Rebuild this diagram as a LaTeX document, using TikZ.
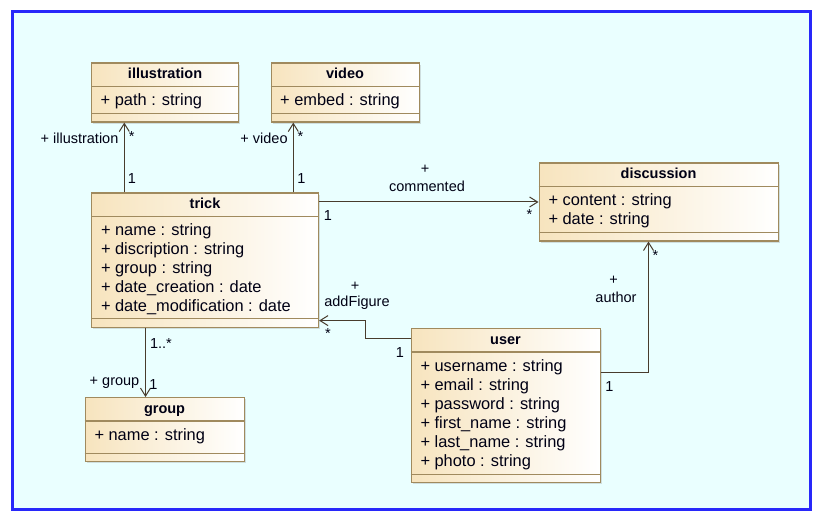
\documentclass[tikz,border=0pt]{standalone}
\usepackage{fontspec}
\setmainfont{Liberation Sans}
\usetikzlibrary{arrows.meta,shadows}

\definecolor{framecol}{RGB}{40,40,250}
\definecolor{bgcyan}{RGB}{234,255,255}
\definecolor{boxtan}{RGB}{247,228,190}
\definecolor{boxedge}{RGB}{160,138,94}
\definecolor{linecol}{RGB}{72,60,45}
\definecolor{textcol}{RGB}{0,0,20}

\begin{document}
\begin{tikzpicture}[x=1pt,y=-1pt]

    \tikzset{
      classbox/.style={
        draw=boxedge,
        line width=1.1pt,
        left color=boxtan,
        right color=white,
        inner sep=0pt,
        anchor=north west,
        drop shadow={shadow xshift=1.5pt,shadow yshift=-1.5pt,opacity=0.25},
      },
      classline/.style={draw=boxedge,line width=1.1pt},
      classtitle/.style={anchor=base,inner sep=0pt,text=textcol,font=\fontsize{14.5pt}{17pt}\selectfont\bfseries},
      classattr/.style={anchor=base west,inner sep=0pt,text=textcol,font=\fontsize{16.4pt}{19pt}\selectfont},
      assoclabel/.style={anchor=base,inner sep=0pt,text=textcol,font=\fontsize{14.5pt}{17pt}\selectfont},
      assoc/.style={draw=linecol,line width=1pt,-{Straight Barb[length=8pt,width=10pt]}},
    }
    \useasboundingbox (0,0) rectangle (821,521);
    \fill[white] (0,0) rectangle (821,521);
    \draw[draw=framecol,line width=3pt,fill=bgcyan] (12,12) rectangle (810,509.5);

	% classes
	\node[classbox,minimum width=147pt,minimum height=59pt] (illustration) at (91,62.5) {};
	\node[classbox,minimum width=148pt,minimum height=59pt] (video) at (270.5,62.5) {};
	\node[classbox,minimum width=227pt,minimum height=134pt] (trick) at (91,192.5) {};
	\node[classbox,minimum width=239pt,minimum height=78pt] (discussion) at (538.5,162.5) {};
	\node[classbox,minimum width=189pt,minimum height=154pt] (user) at (410.5,328) {};
	\node[classbox,minimum width=159pt,minimum height=64pt] (group) at (84.5,397) {};

	\draw[classline] ([yshift=-24pt]illustration.north west) -- ([yshift=-24pt]illustration.north east);
	\draw[classline] ([yshift=9pt]illustration.south west) -- ([yshift=9pt]illustration.south east);
	\draw[classline] ([yshift=-24pt]video.north west) -- ([yshift=-24pt]video.north east);
	\draw[classline] ([yshift=9pt]video.south west) -- ([yshift=9pt]video.south east);
	\draw[classline] ([yshift=-24pt]trick.north west) -- ([yshift=-24pt]trick.north east);
	\draw[classline] ([yshift=9pt]trick.south west) -- ([yshift=9pt]trick.south east);
	\draw[classline] ([yshift=-24pt]discussion.north west) -- ([yshift=-24pt]discussion.north east);
	\draw[classline] ([yshift=9pt]discussion.south west) -- ([yshift=9pt]discussion.south east);
	\draw[classline] ([yshift=-24pt]user.north west) -- ([yshift=-24pt]user.north east);
	\draw[classline] ([yshift=9pt]user.south west) -- ([yshift=9pt]user.south east);
	\draw[classline] ([yshift=-24pt]group.north west) -- ([yshift=-24pt]group.north east);
	\draw[classline] ([yshift=9pt]group.south west) -- ([yshift=9pt]group.south east);

	\node[classtitle] (illustrationName) at ([yshift=-16.5pt]illustration.north) {illustration};
	\node[classtitle] (videoName) at ([yshift=-16.5pt]video.north) {video};
	\node[classtitle] (trickName) at ([yshift=-16.5pt]trick.north) {trick};
	\node[classtitle] (discussionName) at ([yshift=-16.5pt]discussion.north) {discussion};
	\node[classtitle] (userName) at ([yshift=-16.5pt]user.north) {user};
	\node[classtitle] (groupName) at ([yshift=-16.5pt]group.north) {group};

	% attributes
	\node[classattr] (illustrationPath) at ([xshift=9.5pt,yshift=-43pt]illustration.north west) {+ path : string};
	\node[classattr] (videoEmbed) at ([xshift=9.5pt,yshift=-43pt]video.north west) {+ embed : string};
	\node[classattr] (trickA) at ([xshift=9.8pt,yshift=-43pt]trick.north west) {+ name : string};
	\node[classattr] (trickB) at ([xshift=9.8pt,yshift=-62pt]trick.north west) {+ discription : string};
	\node[classattr] (trickC) at ([xshift=9.8pt,yshift=-81pt]trick.north west) {+ group : string};
	\node[classattr] (trickD) at ([xshift=9.8pt,yshift=-100pt]trick.north west) {+ date\_creation : date};
	\node[classattr] (trickE) at ([xshift=9.8pt,yshift=-119pt]trick.north west) {+ date\_modification : date};
	\node[classattr] (discussionA) at ([xshift=9.8pt,yshift=-43pt]discussion.north west) {+ content : string};
	\node[classattr] (discussionB) at ([xshift=9.8pt,yshift=-62pt]discussion.north west) {+ date : string};
	\node[classattr] (userA) at ([xshift=9.8pt,yshift=-43pt]user.north west) {+ username : string};
	\node[classattr] (userB) at ([xshift=9.8pt,yshift=-62pt]user.north west) {+ email : string};
	\node[classattr] (userC) at ([xshift=9.8pt,yshift=-81pt]user.north west) {+ password : string};
	\node[classattr] (userD) at ([xshift=9.8pt,yshift=-100pt]user.north west) {+ first\_name : string};
	\node[classattr] (userE) at ([xshift=9.8pt,yshift=-119pt]user.north west) {+ last\_name : string};
	\node[classattr] (userF) at ([xshift=9.8pt,yshift=-138pt]user.north west) {+ photo : string};
	\node[classattr] (groupA) at ([xshift=9.8pt,yshift=-43pt]group.north west) {+ name : string};

	% associations
	\draw[assoc] ([xshift=33.3pt]trick.north west) -- ([xshift=33.3pt]illustration.south west);
	\draw[assoc] ([xshift=202.3pt]trick.north west) -- ([xshift=22.8pt]video.south west);
	\draw[assoc] ([yshift=-9.5pt]trick.north east) -- ([yshift=-39.5pt]discussion.north west);
	\draw[assoc] ([yshift=-10pt]user.north west) -- ++(-45,0) |- ([yshift=7pt]trick.south east);
	\draw[assoc] ([yshift=-44pt]user.north east) -| ([xshift=110pt]discussion.south west);
	\draw[assoc] ([xshift=54.5pt]trick.south west) -- ([xshift=61pt]group.north west);

	\node[assoclabel] (illustrationRole) at (79.5,144) {+ illustration};
	\node[assoclabel] (illustrationMany) at (131.7,142) {*};
	\node[assoclabel] (illustrationOne) at (132,184) {1};
	\node[assoclabel] (videoRole) at (264,144) {+ video};
	\node[assoclabel] (videoMany) at (300.5,142) {*};
	\node[assoclabel] (videoOne) at (301.5,184) {1};
	\node[assoclabel] (commentedPlus) at (425,173.5) {+};
	\node[assoclabel] (commentedRole) at (427,191.5) {commented};
	\node[assoclabel] (commentedOne) at (328,221) {1};
	\node[assoclabel] (commentedMany) at (529.5,220) {*};
	\node[assoclabel] (addFigurePlus) at (355,290) {+};
	\node[assoclabel] (addFigureRole) at (357,306.5) {addFigure};
	\node[assoclabel] (addFigureMany) at (328,338) {*};
	\node[assoclabel] (addFigureOne) at (400,357) {1};
	\node[assoclabel] (authorPlus) at (613.5,284.4) {+};
	\node[assoclabel] (authorRole) at (616,302.7) {author};
	\node[assoclabel] (authorMany) at (655.5,260.4) {*};
	\node[assoclabel] (authorOne) at (609.5,391) {1};
	\node[assoclabel] (groupMany) at (161,348) {1..*};
	\node[assoclabel] (groupRole) at (114.5,385) {+ group};
	\node[assoclabel] (groupOne) at (153.5,389) {1};

\end{tikzpicture}
\end{document}
